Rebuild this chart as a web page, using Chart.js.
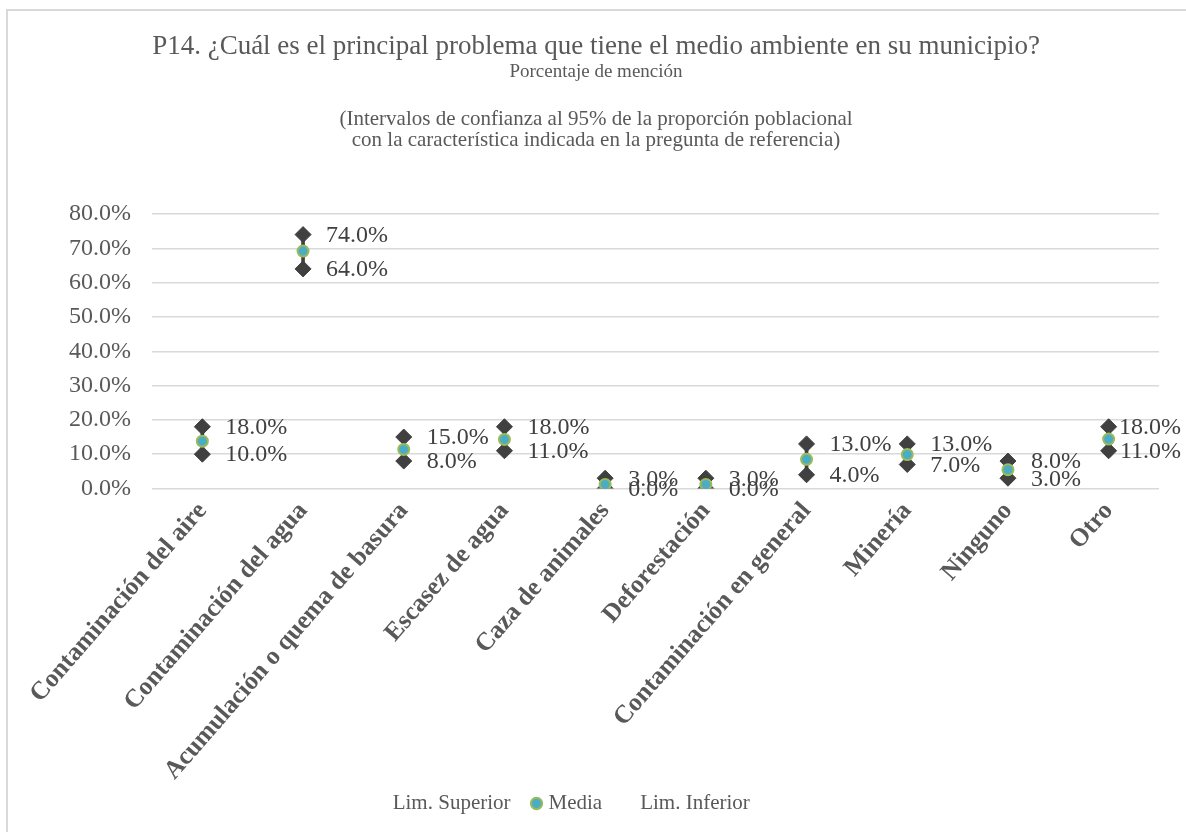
<!DOCTYPE html>
<html><head><meta charset="utf-8">
<script src="https://cdn.jsdelivr.net/npm/chart.js@4.4.1/dist/chart.umd.min.js"></script>
<style>html,body{margin:0;padding:0;background:#fff;}#wrap{position:relative;width:1186px;height:832px;}</style>
</head><body><div id="wrap"><canvas id="c" width="1186" height="832"></canvas></div>
<script>
const categories = ['Contaminación del aire','Contaminación del agua','Acumulación o quema de basura','Escasez de agua','Caza de animales','Deforestación','Contaminación en general','Minería','Ninguno','Otro'];
const limSuperior = [18,74,15,18,3,3,13,13,8,18];
const media = [13.8,69.2,11.4,14.3,1.2,1.2,8.5,9.9,5.5,14.4];
const limInferior = [10,64,8,11,0,0,4,7,3,11];
const yTickMin = 0, yTickMax = 80, yTickStep = 10;
const seriesNames = ['Lim. Superior','Media','Lim. Inferior'];
const titleText = 'P14. ¿Cuál es el principal problema que tiene el medio ambiente en su municipio?';
const subtitleText = 'Porcentaje de mención';
const noteLines = ['(Intervalos de confianza al 95% de la proporción poblacional','con la característica indicada en la pregunta de referencia)'];

const SERIF = '"Liberation Serif","Times New Roman",serif';
const TXT = '#595959';
const fmt = v => v.toFixed(1) + '%';

const framePlugin = {
  id: 'frame',
  afterLayout(chart) {
    if (chart.legend) { chart.legend.left -= 37; }
    if (chart.scales.x) { chart.scales.x.bottom = chart.height; }
  },
  beforeDraw(chart) {
    const ctx = chart.ctx;
    ctx.save();
    ctx.fillStyle = '#fff';
    ctx.fillRect(0, 0, chart.width, chart.height);
    ctx.strokeStyle = '#d9d9d9';
    ctx.lineWidth = 2;
    ctx.strokeRect(7, 10, 1300, 900);
    ctx.fillStyle = TXT;
    ctx.textAlign = 'center';
    ctx.textBaseline = 'alphabetic';
    const cx = 596;
    ctx.font = '27px ' + SERIF;
    ctx.fillText(titleText, cx, 54);
    ctx.font = '19px ' + SERIF;
    ctx.fillText(subtitleText, cx, 77);
    ctx.font = '21px ' + SERIF;
    ctx.fillText(noteLines[0], cx, 125);
    ctx.fillText(noteLines[1], cx, 146);
    ctx.restore();
  }
};

const labelPlugin = {
  id: 'pointLabels',
  afterDatasetsDraw(chart) {
    const ctx = chart.ctx;
    ctx.save();
    ctx.font = '24px ' + SERIF;
    ctx.fillStyle = '#404040';
    ctx.textAlign = 'left';
    ctx.textBaseline = 'middle';
    [0, 2].forEach(di => {
      const meta = chart.getDatasetMeta(di);
      const data = chart.data.datasets[di].data;
      meta.data.forEach((pt, i) => {
        const t = fmt(data[i]);
        const w = ctx.measureText(t).width;
        let x = pt.x + 23;
        if (x + w > chart.width - 5) x = chart.width - 5 - w;
        ctx.fillText(t, x, pt.y + 1);
      });
    });
    ctx.restore();
  }
};

new Chart(document.getElementById('c'), {
  type: 'line',
  data: {
    labels: categories,
    datasets: [
      { label: seriesNames[0], data: limSuperior, showLine: false, pointStyle: 'rectRot', pointRadius: 8, pointHoverRadius: 8,
        pointBackgroundColor: '#404040', pointBorderColor: '#404040', pointBorderWidth: 1, order: 1 },
      { label: seriesNames[1], data: media, showLine: false, pointStyle: 'circle', pointRadius: 5.5, pointHoverRadius: 5.5,
        pointBackgroundColor: '#4BACC6', pointBorderColor: '#9BBB59', pointBorderWidth: 2, order: 0 },
      { label: seriesNames[2], data: limInferior, showLine: false, pointStyle: 'rectRot', pointRadius: 8, pointHoverRadius: 8,
        pointBackgroundColor: '#404040', pointBorderColor: '#404040', pointBorderWidth: 1, order: 1 },
      { type: 'bar', label: 'hl', data: limInferior.map((lo, i) => [lo, limSuperior[i]]), backgroundColor: '#404040',
        barThickness: 3, order: 5 }
    ]
  },
  options: {
    responsive: false,
    animation: false,
    devicePixelRatio: 1,
    layout: { padding: { top: 214, left: 7, right: 27, bottom: 8 } },
    plugins: {
      title: { display: false },
      tooltip: { enabled: false },
      legend: {
        position: 'bottom',
        labels: {
          usePointStyle: true,
          boxWidth: 3, boxHeight: 8,
          padding: 24.5,
          color: TXT,
          font: { family: SERIF, size: 21 },
          generateLabels(chart) {
            return [0, 1, 2].map(i => ({
              text: seriesNames[i],
              datasetIndex: i,
              pointStyle: 'circle',
              fillStyle: i === 1 ? '#4BACC6' : 'rgba(0,0,0,0)',
              strokeStyle: i === 1 ? '#9BBB59' : 'rgba(0,0,0,0)',
              lineWidth: i === 1 ? 2 : 0,
              fontColor: TXT,
              hidden: false
            }));
          }
        }
      }
    },
    scales: {
      x: {
        grid: { display: false, drawTicks: false },
        border: { display: false },
        afterFit(s) { s.height = 280; },
        ticks: {
          color: TXT, autoSkip: false, maxRotation: 49, minRotation: 49, padding: 8,
          font: { family: SERIF, size: 25.5, weight: 'bold' }
        }
      },
      y: {
        min: yTickMin, max: yTickMax,
        afterFit(s) { s.width = 145; },
        grid: { color: '#d9d9d9', lineWidth: 1.5, drawTicks: false },
        border: { display: false },
        ticks: {
          stepSize: yTickStep, color: TXT, padding: 21,
          font: { family: SERIF, size: 24 },
          callback: v => fmt(v)
        }
      }
    }
  },
  plugins: [framePlugin, labelPlugin]
});
</script>
</body></html>
